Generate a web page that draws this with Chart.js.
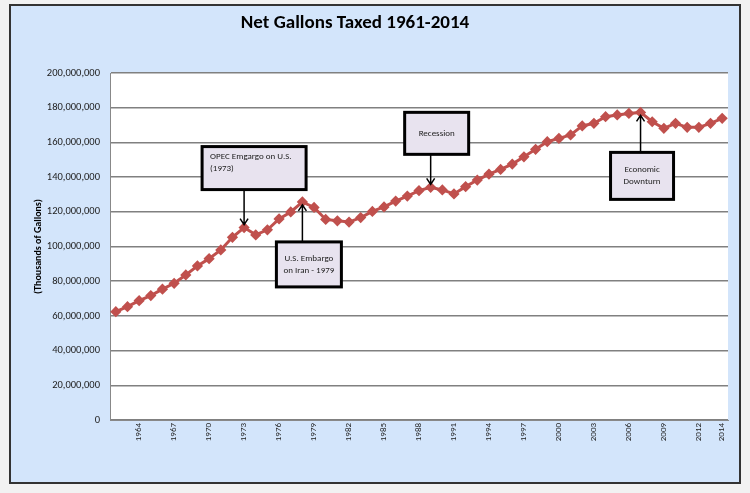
<!DOCTYPE html>
<html>
<head>
<meta charset="utf-8">
<script src="https://cdn.jsdelivr.net/npm/chart.js@4"></script>
<style>
  body { margin: 0; background: #f2f2f2; }
  #wrap { width: 750px; height: 493px; }
</style>
</head>
<body>
<div id="wrap"><canvas id="c" width="750" height="493"></canvas></div>
<script>
// Net gallons taxed (thousands)
const years = [];
for (let y = 1962; y <= 2014; y++) years.push(String(y));
const gallons = [
  62.4, 65.3, 68.8, 71.7, 75.4, 78.8, 83.6, 88.8, 93.0, 98.0,
  105.3, 110.9, 106.7, 109.6, 115.9, 119.9, 125.7, 122.5, 115.6, 114.8,
  114.1, 116.7, 120.2, 122.8, 126.2, 129.1, 132.2, 134.1, 132.6, 130.3,
  134.5, 138.3, 141.7, 144.4, 147.5, 151.7, 156.0, 160.4, 162.3, 164.3,
  169.5, 171.0, 174.8, 175.8, 176.7, 177.3, 171.9, 168.1, 171.0, 168.7,
  168.7, 171.0, 173.9
].map(v => v * 1e6);

// callouts: anchor year, text lines, box offset from the point (px), arrow direction
const notes = [
  { year: "1973", lines: ["OPEC Emgargo on U.S.", "(1973)"], dx: -42, dy: -81, w: 104, h: 43, down: true, align: "left" },
  { year: "1978", lines: ["U.S. Embargo", "on Iran - 1979"], dx: -26, dy: 40, w: 65, h: 45, down: false, align: "center" },
  { year: "1989", lines: ["Recession"], dx: -26, dy: -75, w: 64, h: 42, down: true, align: "center" },
  { year: "2007", lines: ["Economic", "Downturn"], dx: -30, dy: 40, w: 63, h: 47, down: false, align: "center" }
];

const frame = {
  id: "frame",
  beforeDraw(chart) {
    const ctx = chart.ctx;
    ctx.save();
    ctx.fillStyle = "#f2f2f2";
    ctx.fillRect(0, 0, 750, 493);
    ctx.fillStyle = "#d3e5fb";
    ctx.fillRect(10, 5, 730, 478);
    ctx.strokeStyle = "#333";
    ctx.lineWidth = 2;
    ctx.strokeRect(10, 5, 730, 478);
    const a = chart.chartArea;
    ctx.fillStyle = "#fff";
    ctx.fillRect(a.left, a.top, a.right - a.left, a.bottom - a.top);
    ctx.fillStyle = "#000";
    ctx.font = "bold 19px Calibri, 'Liberation Sans', Arial";
    ctx.textAlign = "center";
    ctx.fillText("Net Gallons Taxed 1961-2014", 355, 28);
    ctx.restore();
  },
  afterDraw(chart) {
    const ctx = chart.ctx;
    const xs = chart.scales.x, ys = chart.scales.y;
    ctx.save();
    notes.forEach(n => {
      const i = years.indexOf(n.year);
      const px = xs.getPixelForValue(i), py = ys.getPixelForValue(gallons[i]);
      const bx = px + n.dx, by = py + n.dy;
      // arrow
      ctx.strokeStyle = "#000";
      ctx.lineWidth = 1.5;
      ctx.beginPath();
      if (n.down) {
        ctx.moveTo(px, by + n.h); ctx.lineTo(px, py - 3);
        ctx.moveTo(px - 4, py - 9); ctx.lineTo(px, py - 3); ctx.lineTo(px + 4, py - 9);
      } else {
        ctx.moveTo(px, by); ctx.lineTo(px, py + 3);
        ctx.moveTo(px - 4, py + 9); ctx.lineTo(px, py + 3); ctx.lineTo(px + 4, py + 9);
      }
      ctx.stroke();
      // box
      ctx.fillStyle = "#e8e3ef";
      ctx.fillRect(bx, by, n.w, n.h);
      ctx.lineWidth = 3;
      ctx.strokeRect(bx, by, n.w, n.h);
      ctx.fillStyle = "#222";
      ctx.font = "9px Calibri, 'Liberation Sans', Arial";
      ctx.textAlign = n.align;
      ctx.textBaseline = "middle";
      const tx = n.align === "left" ? bx + 8 : bx + n.w / 2;
      const top = by + n.h / 2 - (n.lines.length - 1) * 6;
      n.lines.forEach((t, k) => ctx.fillText(t, tx, n.align === "left" ? by + 10 + k * 12 : top + k * 12));
    });
    ctx.restore();
  }
};

new Chart(document.getElementById("c"), {
  type: "line",
  data: {
    labels: years,
    datasets: [{
      data: gallons,
      borderColor: "#c0504d",
      backgroundColor: "#c0504d",
      borderWidth: 3,
      pointStyle: "rectRot",
      pointRadius: 3.5,
      tension: 0
    }]
  },
  options: {
    responsive: false,
    animation: false,
    layout: { padding: { left: 28, right: 22, top: 73, bottom: 33 } },
    plugins: { legend: { display: false }, tooltip: { enabled: false } },
    scales: {
      x: {
        offset: true,
        grid: { display: false, drawTicks: false },
        border: { color: "#888" },
        afterFit: s => { s.height = 40; },
        ticks: {
          autoSkip: false,
          maxRotation: 90, minRotation: 90,
          color: "#222",
          font: { size: 9, family: "Calibri, 'Liberation Sans', Arial" },
          callback: (v, i) => {
            const y = +years[i];
            return ((y - 1964) % 3 === 0 || y === 2014) ? years[i] : "";
          }
        }
      },
      y: {
        min: 0, max: 200000000,
        afterFit: s => { s.width = 82; },
        grid: { color: "#808080", lineWidth: 1.5, drawTicks: false },
        border: { color: "#888" },
        ticks: {
          stepSize: 20000000, padding: 10, color: "#222",
          font: { size: 10.5, family: "Calibri, 'Liberation Sans', Arial" },
          callback: v => v.toLocaleString("en-US")
        },
        title: {
          display: true, text: "(Thousands of Gallons)", color: "#000",
          font: { size: 10, weight: "bold", family: "Calibri, 'Liberation Sans', Arial" }
        }
      }
    }
  },
  plugins: [frame]
});
</script>
</body>
</html>
